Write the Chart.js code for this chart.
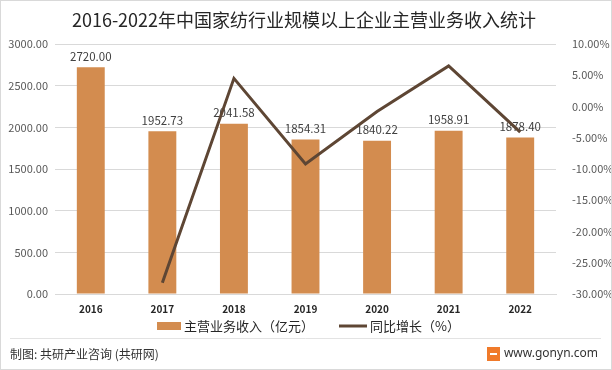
<!DOCTYPE html>
<html>
<head>
<meta charset="utf-8">
<script src="https://cdn.jsdelivr.net/npm/chart.js@4.4.1/dist/chart.umd.min.js"></script>
<style>
  html, body { margin: 0; padding: 0; background: #fff; }
  #wrap { width: 612px; height: 370px; position: relative; }
</style>
</head>
<body>
<div id="wrap"><canvas id="c" width="612" height="370"></canvas></div>
<script>
// 数据
const years = ['2016', '2017', '2018', '2019', '2020', '2021', '2022'];
const revenue = [2720.00, 1952.73, 2041.58, 1854.31, 1840.22, 1958.91, 1878.40];
const growth = [null, -28.2, 4.5, -9.2, -0.8, 6.5, -4.1];
const leftTicks = [0, 500, 1000, 1500, 2000, 2500, 3000];
const rightTicks = [-30, -25, -20, -15, -10, -5, 0, 5, 10];

const titleText = '2016-2022年中国家纺行业规模以上企业主营业务收入统计';
const barLabel = '主营业务收入（亿元）';
const lineLabel = '同比增长（%）';

const barColor = '#D38C4F';
const lineColor = '#5E4634';
const font = '"Noto Sans CJK SC", "Noto Sans", sans-serif';

// 标题、数据标签、图例、底部说明
const decor = {
    id: 'decor',
    afterDatasetDraw(chart, args) {
        if (args.index !== 1) return; // 只给柱子加标签
        const ctx = chart.ctx;
        ctx.save();
        ctx.font = '11.5px ' + font;
        ctx.fillStyle = '#404040';
        ctx.textAlign = 'center';
        ctx.textBaseline = 'bottom';
        args.meta.data.forEach((bar, i) => {
            ctx.fillText(revenue[i].toFixed(2), bar.x, bar.y - 5);
        });
        ctx.restore();
    },
    afterDraw(chart) {
        const ctx = chart.ctx;
        ctx.save();
        // 外框
        ctx.strokeStyle = '#D9D9D9';
        ctx.lineWidth = 1;
        ctx.strokeRect(0.5, 0.5, 611, 369);
        // 标题
        ctx.fillStyle = '#262626';
        ctx.font = '18px ' + font;
        ctx.textAlign = 'center';
        ctx.textBaseline = 'middle';
        ctx.fillText(titleText, 304, 20);
        // 图例
        ctx.fillStyle = barColor;
        ctx.fillRect(157, 322, 24, 8);
        ctx.fillStyle = '#262626';
        ctx.font = '13px ' + font;
        ctx.textAlign = 'left';
        ctx.fillText(barLabel, 184, 326);
        ctx.strokeStyle = lineColor;
        ctx.lineWidth = 3;
        ctx.beginPath();
        ctx.moveTo(339, 326);
        ctx.lineTo(367, 326);
        ctx.stroke();
        ctx.fillText(lineLabel, 370, 326);
        // 底部
        ctx.strokeStyle = '#E3E3E3';
        ctx.lineWidth = 1;
        ctx.beginPath();
        ctx.moveTo(10, 338.5);
        ctx.lineTo(601, 338.5);
        ctx.stroke();
        ctx.fillStyle = '#333333';
        ctx.font = '12px ' + font;
        ctx.fillText('制图: 共研产业咨询 (共研网)', 10, 354);
        ctx.textAlign = 'right';
        ctx.font = '12px "Noto Sans", sans-serif';
        ctx.fillText('www.gonyn.com', 598, 354);
        ctx.fillStyle = '#F07A2A';
        ctx.fillRect(487, 347, 13, 14);
        ctx.fillStyle = '#fff';
        ctx.fillRect(490, 353, 7, 2);
        ctx.restore();
    }
};

new Chart(document.getElementById('c').getContext('2d'), {
    data: {
        labels: years,
        datasets: [
            {
                type: 'line',
                label: lineLabel,
                data: growth,
                yAxisID: 'y1',
                borderColor: lineColor,
                borderWidth: 3,
                pointRadius: 0,
                tension: 0,
                order: 0
            },
            {
                type: 'bar',
                label: barLabel,
                data: revenue,
                yAxisID: 'y',
                backgroundColor: barColor,
                barPercentage: 0.39,
                categoryPercentage: 1,
                order: 1
            }
        ]
    },
    options: {
        responsive: false,
        animation: false,
        layout: { padding: { top: 44, bottom: 56, left: 0, right: 0 } },
        plugins: {
            legend: { display: false },
            title: { display: false },
            tooltip: { enabled: false }
        },
        scales: {
            x: {
                grid: { display: false },
                border: { color: '#D9D9D9' },
                ticks: {
                    color: '#262626',
                    font: { size: 10, weight: 'bold', family: font },
                    padding: 1
                },
                afterFit(axis) { axis.height = 20; }
            },
            y: {
                position: 'left',
                min: 0,
                max: 3000,
                afterBuildTicks(axis) { axis.ticks = leftTicks.map(v => ({ value: v })); },
                grid: { color: '#D9D9D9', drawTicks: false },
                border: { display: false },
                ticks: {
                    color: '#595959',
                    font: { size: 11, family: font },
                    padding: 7,
                    callback: v => v.toFixed(2)
                },
                afterFit(axis) { axis.width = 55; }
            },
            y1: {
                position: 'right',
                min: -30,
                max: 10,
                afterBuildTicks(axis) { axis.ticks = rightTicks.map(v => ({ value: v })); },
                grid: { display: false },
                border: { display: false },
                ticks: {
                    color: '#595959',
                    font: { size: 11, family: font },
                    padding: 8,
                    callback: v => v.toFixed(2) + '%'
                },
                afterFit(axis) { axis.width = 56; }
            }
        }
    },
    plugins: [decor]
});
</script>
</body>
</html>
